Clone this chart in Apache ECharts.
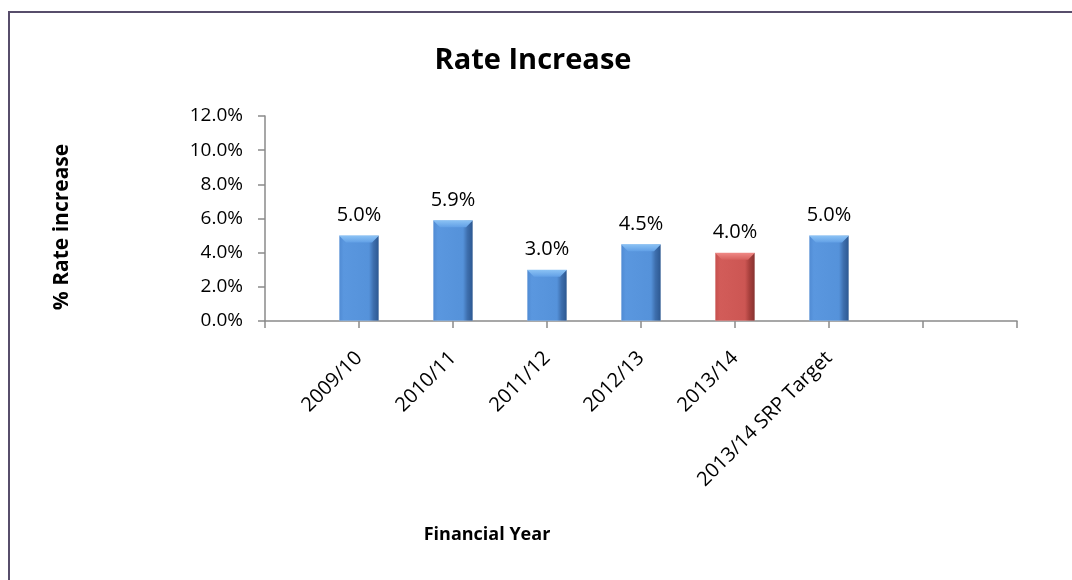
<!DOCTYPE html>
<html><head><meta charset="utf-8">
<script src="https://cdn.jsdelivr.net/npm/echarts@6/dist/echarts.min.js"></script>
<style>html,body{margin:0;padding:0;background:#fff}#c{width:1072px;height:580px}</style>
</head><body><div id="c"></div>
<script>
var categories = ['', '2009/10', '2010/11', '2011/12', '2012/13', '2013/14', '2013/14 SRP Target', '', ''];
var rateIncrease = [null, 5.0, 5.9, 3.0, 4.5, 4.0, 5.0, null, null];
var highlightCategory = '2013/14';
var yTicks = [0, 2, 4, 6, 8, 10, 12];

var FONT = 'Open Sans';
var blue = {type:'linear',x:0,y:0,x2:1,y2:0,colorStops:[
  {offset:0,color:'#4f8ad3'},{offset:0.12,color:'#5a97df'},{offset:0.75,color:'#5592da'},
  {offset:0.86,color:'#3e6fae'},{offset:1,color:'#2b568f'}]};
var red = {type:'linear',x:0,y:0,x2:1,y2:0,colorStops:[
  {offset:0,color:'#c64f4c'},{offset:0.12,color:'#d25c59'},{offset:0.75,color:'#cc5653'},
  {offset:0.86,color:'#a8403d'},{offset:1,color:'#853230'}]};

var chart = echarts.init(document.getElementById('c'), null, {renderer:'canvas'});
chart.setOption({
  backgroundColor:'#fff',
  animation:false,
  graphic:[
    {type:'rect', shape:{x:9, y:12, width:1200, height:700}, style:{fill:'none', stroke:'#574d6b', lineWidth:2}, silent:true},
    {type:'text', x:533, y:61, style:{text:'Rate Increase', fontFamily:FONT, fontSize:29, fontWeight:'bold', fill:'#000', textAlign:'center', textVerticalAlign:'middle'}},
    {type:'text', x:487, y:535, style:{text:'Financial Year', fontFamily:FONT, fontSize:18, fontWeight:'bold', fill:'#000', textAlign:'center', textVerticalAlign:'middle'}},
    {type:'text', x:62, y:227, rotation:Math.PI/2, style:{text:'% Rate increase', fontFamily:FONT, fontSize:21, fontWeight:'bold', fill:'#000', textAlign:'center', textVerticalAlign:'middle'}}
  ],
  grid:{left:265, right:55, top:116, bottom:259, containLabel:false},
  xAxis:{type:'category', data:categories, boundaryGap:false,
    axisLine:{lineStyle:{color:'#8a8a8a', width:1.5}},
    axisTick:{show:true, inside:false, length:7, lineStyle:{color:'#8a8a8a', width:1.5}, alignWithLabel:true},
    axisLabel:{rotate:45, margin:34, interval:0, fontFamily:FONT, fontSize:20, color:'#000'},
    splitLine:{show:false}},
  yAxis:{type:'value', min:yTicks[0], max:yTicks[yTicks.length-1], interval:yTicks[1]-yTicks[0],
    axisLine:{show:true, lineStyle:{color:'#8a8a8a', width:1.5}},
    axisTick:{show:true, length:7, lineStyle:{color:'#8a8a8a', width:1.5}},
    axisLabel:{margin:22, fontFamily:FONT, fontSize:19, color:'#000', formatter:function(v){return v.toFixed(1)+'%';}},
    splitLine:{show:false}},
  series:[
    {type:'bar', data:rateIncrease, barWidth:40,
      itemStyle:{color:function(p){return categories[p.dataIndex]===highlightCategory ? red : blue;},
        borderColor:'rgba(255,255,255,0.35)', borderWidth:0.5},
      label:{show:true, position:'top', distance:10, fontFamily:FONT, fontSize:20, color:'#000',
        formatter:function(p){return p.value==null?'':p.value.toFixed(1)+'%';}}},
    {type:'custom', data:rateIncrease.map(function(v,i){return [i,v];}), z:5, silent:true,
      renderItem:function(params, api){
        var v = api.value(1);
        if (v == null || isNaN(v)) return null;
        var top = api.coord([api.value(0), v]);
        var w = 40, h = 7, inset = 7;
        var x0 = top[0]-w/2, x1 = top[0]+w/2, y0 = top[1];
        var isRed = categories[api.value(0)] === highlightCategory;
        return {type:'polygon', shape:{points:[[x0,y0],[x1,y0],[x1-inset,y0+h],[x0+inset,y0+h]]},
          style:{fill:{type:'linear',x:0,y:0,x2:0,y2:1,colorStops:isRed?
            [{offset:0,color:'#f08a87'},{offset:1,color:'#d6605d'}]:
            [{offset:0,color:'#8cc3f5'},{offset:1,color:'#62a0e6'}]}}};
      }}
  ]
});
</script></body></html>
